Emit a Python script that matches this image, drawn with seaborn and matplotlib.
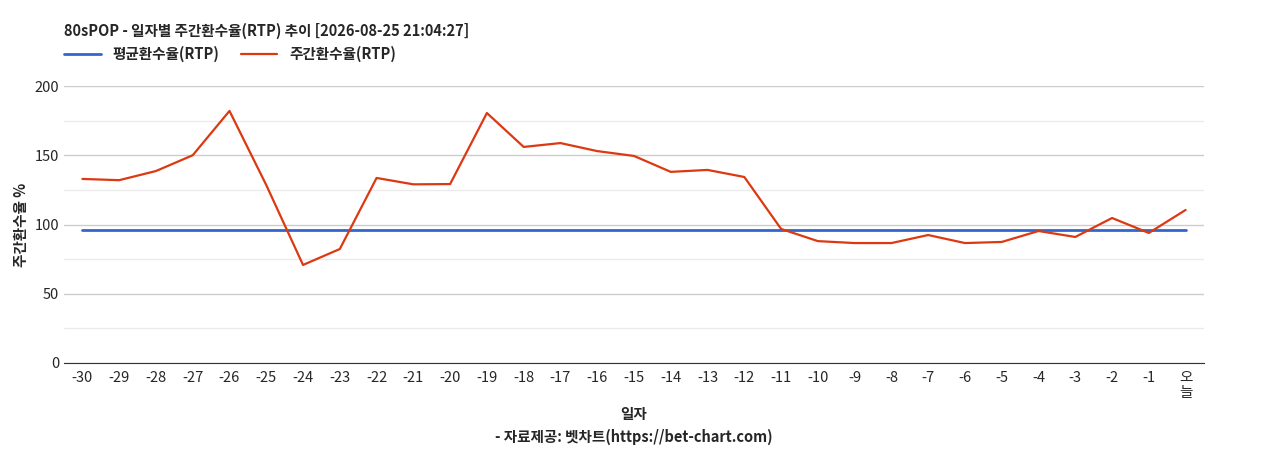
import matplotlib
matplotlib.use("Agg")
import matplotlib.pyplot as plt
import seaborn as sns
import pandas as pd

days = [str(i) for i in range(-30, 0)] + ["오\n늘"]
weekly_rtp = [132.9, 132, 138.6, 150, 182, 128.5, 70.8, 82.3, 133.6, 129, 129.2, 180.5,
              156, 158.8, 153, 149.5, 138, 139.4, 134.3, 96.8, 88, 86.6, 86.6, 92.4,
              86.6, 87.4, 95.3, 91, 104.7, 93.9, 110.5]
avg_rtp = 96.0

sns.set_style("white")
plt.rcParams['font.family'] = ['Noto Sans CJK KR', 'DejaVu Sans']

df = pd.DataFrame({"x": range(len(days)), "주간": weekly_rtp, "평균": [avg_rtp]*len(days)})

fig = plt.figure(figsize=(12.68, 4.5), dpi=100)
ax = fig.add_axes([64/1268, 1-363/450, (1204-64)/1268, (363-86)/450])
sns.lineplot(data=df, x="x", y="평균", ax=ax, color="#3366cc", lw=2, label="평균환수율(RTP)")
sns.lineplot(data=df, x="x", y="주간", ax=ax, color="#dc3912", lw=1.6, label="주간환수율(RTP)")
ax.set_ylim(0, 200)
ax.set_xlim(-0.5, len(days)-0.5)
ax.set_yticks([0, 50, 100, 150, 200])
ax.set_yticks([25, 75, 125, 175], minor=True)
ax.grid(axis='y', which='major', color='#cccccc', lw=1)
ax.grid(axis='y', which='minor', color='#ebebeb', lw=1)
ax.set_axisbelow(True)
ax.set_xticks(range(len(days)))
ax.set_xticklabels(days, fontsize=10.5, linespacing=1.1, va='top')
ax.tick_params(axis='y', labelsize=10.5, length=0)
ax.tick_params(axis='x', length=0, pad=6)
for s in ['top', 'right', 'left']:
    ax.spines[s].set_visible(False)
ax.spines['bottom'].set_color('#333333')
ax.set_xlabel("일자", fontsize=10.5, fontweight='bold', labelpad=4)
ax.set_ylabel("주간환수율 %", fontsize=10.5, fontweight='bold')
fig.text(0.5, 1-437/450, "- 자료제공: 벳차트(https://bet-chart.com)", ha='center', va='center',
         fontsize=10.5, fontweight='bold')
fig.text(64/1268, 1-31/450, "80sPOP - 일자별 주간환수율(RTP) 추이 [2026-08-25 21:04:27]",
         fontsize=10.5, fontweight='bold', va='center')
leg = ax.legend(loc='upper left', bbox_to_anchor=(-0.005, 1+46/277), ncol=2, frameon=False,
                prop={'size': 10.5, 'weight': 'bold'}, handlelength=2.5, columnspacing=1.5,
                borderaxespad=0)
fig.savefig("out.png", dpi=100)
